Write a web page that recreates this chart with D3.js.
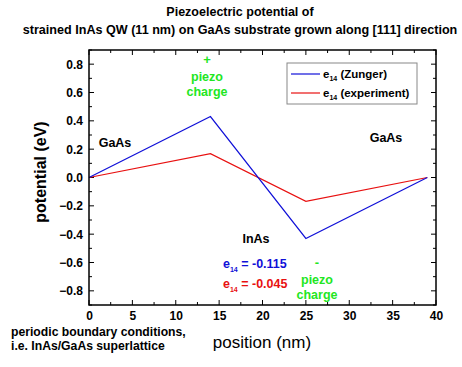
<!DOCTYPE html>
<meta charset="utf-8">
<script src="https://d3js.org/d3.v7.min.js"></script>
<style>
  body { margin: 0; background: #fff; }
  svg text { font-family: 'Liberation Sans', Arial, sans-serif; }
</style>
<body>
<div id="chart"></div>
<script>

// data
var positions = [0, 14, 25, 39];
var zunger = [0, 0.43, -0.43, 0];
var experiment = [0, 0.168, -0.168, 0];
var xTicks = [0, 5, 10, 15, 20, 25, 30, 35, 40];
var yTicks = [-0.8, -0.6, -0.4, -0.2, 0, 0.2, 0.4, 0.6, 0.8];

var W = 462, H = 367;
var margin = {top: 50, right: 26, bottom: 62, left: 89},
    width = W - margin.left - margin.right,
    height = H - margin.top - margin.bottom;

var svg = d3.select("#chart").append("svg")
    .attr("width", W).attr("height", H);

var g = svg.append("g")
    .attr("transform", "translate(" + margin.left + "," + margin.top + ")");

var x = d3.scaleLinear().domain([0, 40]).range([0, width]);
var y = d3.scaleLinear().domain([-0.9, 0.9]).range([height, 0]);

// ticks, pointing inside, on all four sides
var xMinor = d3.range(0, 40.01, 2.5);
var yMinor = d3.range(-0.9, 0.901, 0.1);

function isMajorX(v) { return Math.abs(v % 5) < 0.01; }
function isMajorY(v) { return Math.abs(Math.round(v * 10) % 2) === 0; }

var ticks = g.append("g").attr("stroke", "#000").attr("stroke-width", 1);
xMinor.forEach(function(v) {
  var len = isMajorX(v) ? 5 : 3;
  ticks.append("line").attr("x1", x(v)).attr("x2", x(v)).attr("y1", height).attr("y2", height - len);
  ticks.append("line").attr("x1", x(v)).attr("x2", x(v)).attr("y1", 0).attr("y2", len);
});
yMinor.forEach(function(v) {
  var len = isMajorY(v) ? 5 : 3;
  ticks.append("line").attr("y1", y(v)).attr("y2", y(v)).attr("x1", 0).attr("x2", len);
  ticks.append("line").attr("y1", y(v)).attr("y2", y(v)).attr("x1", width).attr("x2", width - len);
});

// axes labels through d3 axes
var xAxis = g.append("g")
  .attr("transform", "translate(0," + height + ")")
  .call(d3.axisBottom(x).tickValues(xTicks).tickSize(0).tickPadding(6).tickFormat(d3.format("d")));
var yAxis = g.append("g")
  .call(d3.axisLeft(y).tickValues(yTicks).tickSize(0).tickPadding(6).tickFormat(d3.format(".1f")));
[xAxis, yAxis].forEach(function(a) {
  a.select(".domain").remove();
  a.selectAll("text")
    .style("font-size", "12px").style("font-weight", "bold")
    .attr("fill", "#000")
    .style("font-family", "'Liberation Sans', Arial, sans-serif");
});

// lines
var line = d3.line()
  .x(function(d) { return x(d[0]); })
  .y(function(d) { return y(d[1]); });

g.append("path")
  .datum(positions.map(function(p, i) { return [p, experiment[i]]; }))
  .attr("d", line).attr("fill", "none").attr("stroke", "#e81010").attr("stroke-width", 1.2);
g.append("path")
  .datum(positions.map(function(p, i) { return [p, zunger[i]]; }))
  .attr("d", line).attr("fill", "none").attr("stroke", "#1010d8").attr("stroke-width", 1.2);

// frame
g.append("rect")
  .attr("width", width).attr("height", height)
  .attr("fill", "none").attr("stroke", "#000").attr("stroke-width", 1.5);

// title
svg.append("text").attr("x", 240).attr("y", 16).attr("text-anchor", "middle")
  .style("font-size", "12.5px").style("font-weight", "bold").text("Piezoelectric potential of");
svg.append("text").attr("x", 240).attr("y", 34).attr("text-anchor", "middle")
  .style("font-size", "12.6px").style("font-weight", "bold")
  .text("strained InAs QW (11 nm) on GaAs substrate grown along [111] direction");

// axis titles
svg.append("text").attr("transform", "translate(46,172) rotate(-90)")
  .attr("text-anchor", "middle").style("font-size", "16px").style("font-weight", "bold")
  .text("potential (eV)");
svg.append("text").attr("x", 262).attr("y", 348).attr("text-anchor", "middle")
  .style("font-size", "17px").text("position (nm)");

// bottom-left note
svg.append("text").attr("x", 11).attr("y", 336)
  .style("font-size", "12.2px").style("font-weight", "bold").text("periodic boundary conditions,");
svg.append("text").attr("x", 11).attr("y", 350)
  .style("font-size", "12.2px").style("font-weight", "bold").text("i.e. InAs/GaAs superlattice");

// legend
var leg = svg.append("g");
leg.append("rect").attr("x", 287).attr("y", 63).attr("width", 130).attr("height", 41)
  .attr("fill", "#fff").attr("stroke", "#888").attr("stroke-width", 1);
var legItems = [["(Zunger)", "#1010d8", 74], ["(experiment)", "#e81010", 93]];
legItems.forEach(function(it) {
  leg.append("line").attr("x1", 291).attr("x2", 320).attr("y1", it[2]).attr("y2", it[2])
    .attr("stroke", it[1]).attr("stroke-width", 1.2);
  var t = leg.append("text").attr("x", 323).attr("y", it[2] + 4)
    .style("font-size", "11.5px").style("font-weight", "bold");
  t.append("tspan").text("e");
  t.append("tspan").attr("dy", 3).style("font-size", "7px").text("14");
  t.append("tspan").attr("dy", -3).text(" " + it[0]);
});

// annotations
function label(tx, ty, str, color, size, anchor) {
  svg.append("text").attr("x", tx).attr("y", ty).attr("text-anchor", anchor || "middle")
    .attr("fill", color).style("font-size", (size || 12) + "px").style("font-weight", "bold")
    .text(str);
}
var green = "#22e622";
label(207, 64, "+", green, 13);
label(207, 81, "piezo", green, 12.5);
label(207, 96, "charge", green, 12.5);
label(317, 267, "-", green, 13);
label(317, 284, "piezo", green, 12.5);
label(317, 299, "charge", green, 12.5);
label(115, 147, "GaAs", "#000", 12.5);
label(386, 142, "GaAs", "#000", 12.5);
label(256, 243, "InAs", "#000", 12.5);

function eLabel(tx, ty, str, color) {
  var t = svg.append("text").attr("x", tx).attr("y", ty).attr("fill", color)
    .style("font-size", "12.5px").style("font-weight", "bold");
  t.append("tspan").text("e");
  t.append("tspan").attr("dy", 4).style("font-size", "7px").text("14");
  t.append("tspan").attr("dy", -4).text(" = " + str);
}
eLabel(223, 268, "-0.115", "#1010d8");
eLabel(223, 288, "-0.045", "#e81010");

</script>
</body>
